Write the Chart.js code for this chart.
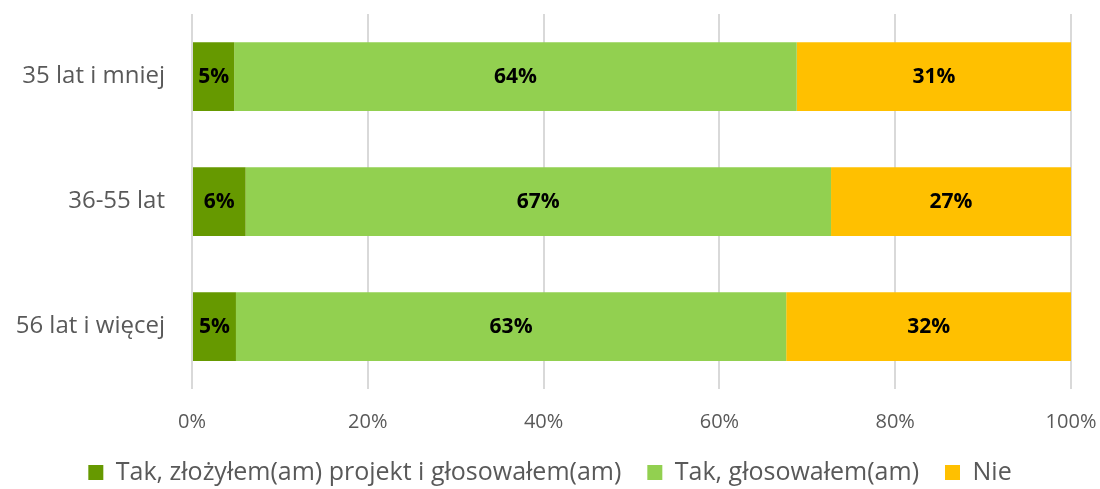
<!DOCTYPE html>
<html>
<head>
<meta charset="utf-8">
<script src="https://cdn.jsdelivr.net/npm/chart.js@4"></script>
<style>
  html, body { margin: 0; padding: 0; background: #fff; }
  #wrap { width: 1100px; height: 489px; }
</style>
</head>
<body>
<div id="wrap"><canvas id="chart"></canvas></div>
<script>
// Udział w budżecie obywatelskim wg wieku

const categories = ['35 lat i mniej', '36-55 lat', '56 lat i więcej'];
const submitted = [4.8, 6.1, 5.0];
const voted = [64.0, 66.6, 62.6];
const notVoted = [31.2, 27.3, 32.4];
const seriesNames = [
    'Tak, złożyłem(am) projekt i głosowałem(am)',
    'Tak, głosowałem(am)',
    'Nie'
];

const FONT = '"Open Sans", sans-serif';

// simple centered value labels
const valueLabels = {
    id: 'valueLabels',
    afterDatasetsDraw(chart) {
        const ctx = chart.ctx;
        ctx.save();
        ctx.font = 'bold 21px ' + FONT;
        ctx.fillStyle = '#000';
        ctx.textAlign = 'center';
        ctx.textBaseline = 'middle';
        chart.data.datasets.forEach((ds, i) => {
            chart.getDatasetMeta(i).data.forEach((bar, j) => {
                const x = (bar.x + bar.base) / 2;
                ctx.fillText(Math.round(ds.data[j]) + '%', x, bar.y + 1);
            });
        });
        ctx.restore();
    }
};

const data = {
    labels: categories,
    datasets: [
        {
            label: seriesNames[0],
            data: submitted,
            backgroundColor: '#669900',
        },
        {
            label: seriesNames[1],
            data: voted,
            backgroundColor: '#92D050',
        },
        {
            label: seriesNames[2],
            data: notVoted,
            backgroundColor: '#FFC000',
        },
    ]
};

const config = {
    type: 'bar',
    data: data,
    plugins: [valueLabels],
    options: {
        indexAxis: 'y',
        responsive: true,
        maintainAspectRatio: false,
        animation: false,
        layout: {
            padding: { top: 14, right: 0, left: 0, bottom: -6 }
        },
        datasets: {
            bar: {
                categoryPercentage: 0.55,
                barPercentage: 1,
                borderWidth: 0
            }
        },
        scales: {
            x: {
                stacked: true,
                min: 0,
                max: 100,
                ticks: {
                    stepSize: 20,
                    callback: v => v + '%',
                    color: '#595959',
                    font: { family: FONT, size: 20 },
                    padding: 21
                },
                grid: { color: '#d9d9d9', lineWidth: 2, drawTicks: false },
                border: { display: false },
                afterFit: s => {
                    s.height = 45;
                    s.paddingRight = 29;
                }
            },
            y: {
                stacked: true,
                ticks: {
                    color: '#595959',
                    font: { family: FONT, size: 24 },
                    padding: 19
                },
                grid: { display: false },
                border: { display: false },
                afterFit: s => {
                    s.width = 192;
                    s.paddingTop = 0;
                    s.paddingBottom = 0;
                }
            }
        },
        plugins: {
            legend: {
                position: 'bottom',
                labels: {
                    color: '#595959',
                    font: { family: FONT, size: 25 },
                    boxWidth: 15,
                    boxHeight: 15,
                    padding: 26
                }
            },
            tooltip: { enabled: false }
        }
    }
};

const myChart = new Chart(document.getElementById('chart'), config);
</script>
</body>
</html>
